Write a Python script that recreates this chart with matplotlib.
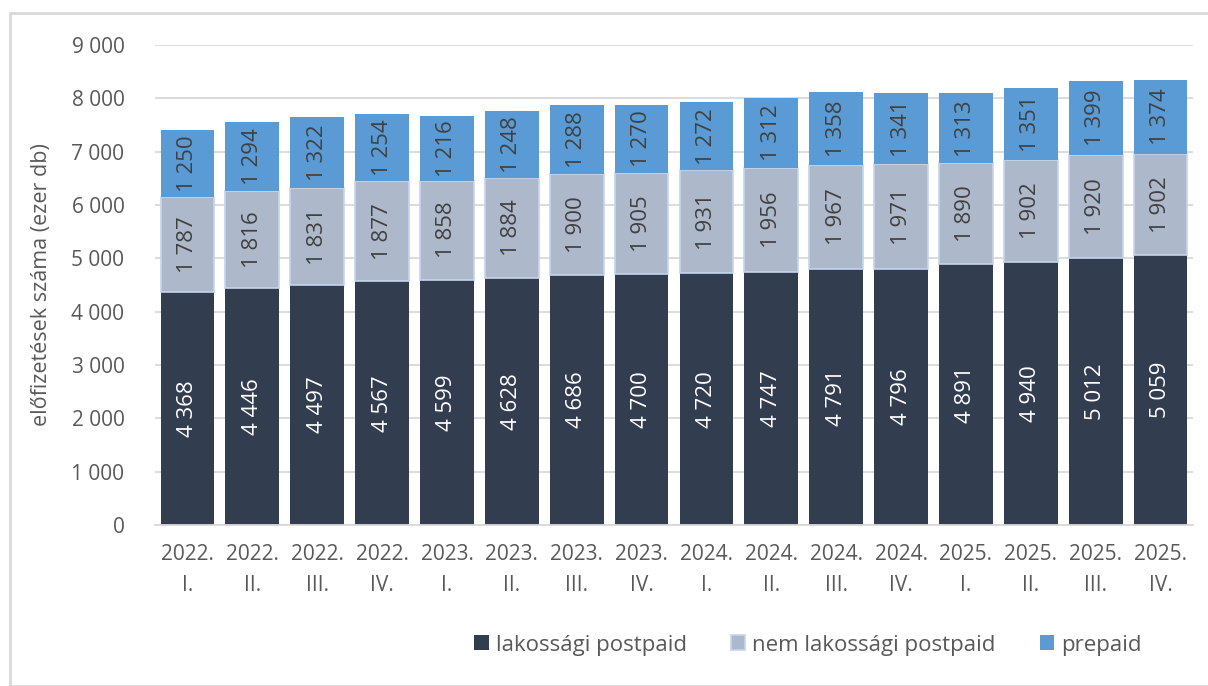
import matplotlib
matplotlib.use("Agg")
import matplotlib.pyplot as plt
from matplotlib.patches import Rectangle
import numpy as np

plt.rcParams['font.family'] = ['Open Sans', 'DejaVu Sans']

quarters = ["2022.\nI.", "2022.\nII.", "2022.\nIII.", "2022.\nIV.",
            "2023.\nI.", "2023.\nII.", "2023.\nIII.", "2023.\nIV.",
            "2024.\nI.", "2024.\nII.", "2024.\nIII.", "2024.\nIV.",
            "2025.\nI.", "2025.\nII.", "2025.\nIII.", "2025.\nIV."]
lakossagi = [4368, 4446, 4497, 4567, 4599, 4628, 4686, 4700,
             4720, 4747, 4791, 4796, 4891, 4940, 5012, 5059]
nem_lakossagi = [1787, 1816, 1831, 1877, 1858, 1884, 1900, 1905,
                 1931, 1956, 1967, 1971, 1890, 1902, 1920, 1902]
prepaid = [1250, 1294, 1322, 1254, 1216, 1248, 1288, 1270,
           1272, 1312, 1358, 1341, 1313, 1351, 1399, 1374]

def fmt(v):
    return f"{v:,}".replace(",", " ")

fig = plt.figure(figsize=(12.08, 6.86), dpi=100)
ax = fig.add_axes([155/1208, 1 - 525/686, 1038/1208, 480/686])

x = np.arange(len(quarters))
w = 0.83
c_dark, c_gray, c_blue = "#333d50", "#adb9ca", "#5b9bd5"

ax.bar(x, lakossagi, w, color=c_dark, label="lakossági postpaid", zorder=2)
ax.bar(x, nem_lakossagi, w, bottom=lakossagi, color=c_gray,
       edgecolor="#c5d5ee", linewidth=1.2, label="nem lakossági postpaid", zorder=2)
bot3 = np.array(lakossagi) + np.array(nem_lakossagi)
ax.bar(x, prepaid, w, bottom=bot3, color=c_blue, label="prepaid", zorder=2)

for i in range(len(x)):
    ax.text(x[i], lakossagi[i] / 2, fmt(lakossagi[i]), rotation=90,
            ha="center", va="center", color="white", fontsize=16)
    ax.text(x[i], lakossagi[i] + nem_lakossagi[i] / 2, fmt(nem_lakossagi[i]),
            rotation=90, ha="center", va="center", color="#404040", fontsize=16)
    ax.text(x[i], bot3[i] + prepaid[i] / 2, fmt(prepaid[i]), rotation=90,
            ha="center", va="center", color="#404040", fontsize=16)

ax.set_xlim(-0.5, len(x) - 0.5)
ax.set_ylim(0, 9000)
ax.set_yticks(range(0, 9001, 1000))
ax.set_yticklabels([fmt(v) for v in range(0, 9001, 1000)])
ax.set_xticks(x)
ax.set_xticklabels(quarters, linespacing=1.6)
ax.grid(axis="y", color="#d9d9d9", linewidth=1.3, zorder=0)
ax.set_axisbelow(True)
for s in ["top", "right", "left"]:
    ax.spines[s].set_visible(False)
ax.spines["bottom"].set_color("#d9d9d9")
ax.spines["bottom"].set_linewidth(1.3)
ax.tick_params(axis="both", length=0, labelsize=15, labelcolor="#595959")
ax.tick_params(axis="y", pad=22)
ax.tick_params(axis="x", pad=14)
ax.set_ylabel("előfizetések száma (ezer db)", fontsize=15.5, color="#595959", labelpad=14)

ax.legend(loc="center", bbox_to_anchor=(808/1208, 1 - 645/686),
          bbox_transform=fig.transFigure, ncol=3, frameon=False,
          fontsize=16, labelcolor="#595959", handlelength=0.65, handleheight=0.65,
          handletextpad=0.3, columnspacing=2.0)

fig.patches.append(Rectangle((10/1208, 0), 1.2, 1 - 13/686, transform=fig.transFigure,
                             fill=False, edgecolor="#d9d9d9", linewidth=2))

fig.savefig("out.png", dpi=100)
